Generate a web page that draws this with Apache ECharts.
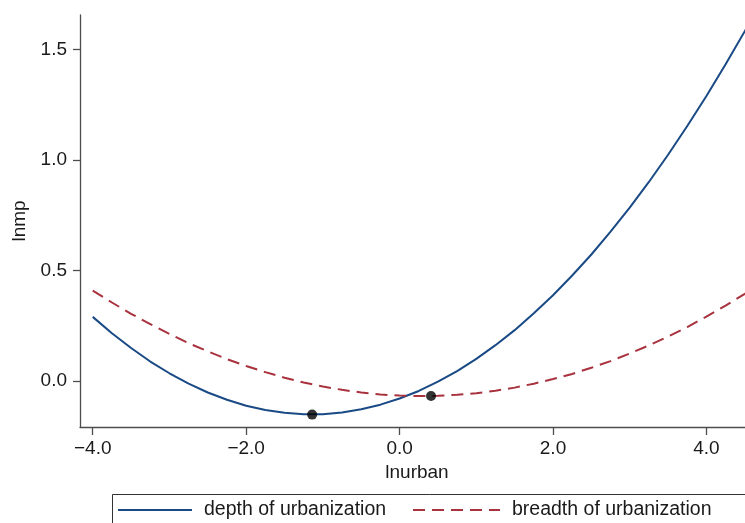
<!DOCTYPE html>
<html>
<head>
<meta charset="utf-8">
<script src="https://cdn.jsdelivr.net/npm/echarts@6/dist/echarts.min.js"></script>
<style>
html,body{margin:0;padding:0;background:#fff;}
#chart{width:745px;height:523px;}
</style>
</head>
<body>
<div id="chart"></div>
<script>
// x values (lnurban)
var xValues = [-4.0,-3.75,-3.5,-3.25,-3.0,-2.75,-2.5,-2.25,-2.0,-1.75,-1.5,-1.25,-1.0,-0.75,-0.5,-0.25,
  0.0,0.25,0.5,0.75,1.0,1.25,1.5,1.75,2.0,2.25,2.5,2.75,3.0,3.25,3.5,3.75,4.0,4.25,4.5,4.62];
// depth of urbanization (fitted lnmp)
var depthValues = [0.290,0.216,0.149,0.088,0.035,-0.012,-0.052,-0.085,-0.112,-0.131,-0.144,-0.150,-0.150,-0.142,-0.128,-0.107,
  -0.079,-0.045,-0.003,0.045,0.100,0.162,0.230,0.306,0.388,0.477,0.572,0.675,0.784,0.900,1.023,1.153,1.289,1.432,1.582,1.655];
// breadth of urbanization (fitted lnmp)
var breadthValues = [0.409,0.355,0.304,0.257,0.213,0.171,0.134,0.099,0.068,0.040,0.015,-0.007,-0.025,-0.040,-0.052,-0.061,
  -0.066,-0.068,-0.067,-0.062,-0.055,-0.044,-0.030,-0.012,0.009,0.032,0.060,0.090,0.124,0.161,0.201,0.244,0.291,0.341,0.394,0.421];
// turning points
var turnX = [-1.14, 0.41];
var turnY = [-0.152, -0.068];
// tick labels
var xTicks = [-4, -2, 0, 2, 4];
var yTicks = [0, 0.5, 1.0, 1.5];

var FONT = 'Liberation Sans, Arial, Helvetica, sans-serif';
function fmt(v){ return (v < 0 ? '\u2212' : '') + Math.abs(v).toFixed(1); }
function pairs(xs, ys){ return xs.map(function(x,i){ return [x, ys[i]]; }); }

var chart = echarts.init(document.getElementById('chart'), null, {renderer:'canvas'});
var axisColor = '#4d4d4d';
chart.setOption({
  backgroundColor: '#ffffff',
  animation: false,
  grid: { left: 80, top: 15, width: 674, bottom: 96, containLabel: false, outerBoundsMode: 'none' },
  xAxis: {
    type: 'value', min: -4.166, max: 4.62,
    name: 'lnurban', nameLocation: 'middle', nameGap: 28,
    nameTextStyle: { color: '#1a1a1a', fontSize: 19, fontFamily: FONT },
    axisLine: { show: true, onZero: false, lineStyle: { color: axisColor, width: 1.3 } },
    axisTick: { show: true, length: 8, customValues: xTicks, lineStyle: { color: axisColor, width: 1.3 } },
    axisLabel: { customValues: xTicks, formatter: fmt, margin: 12, color: '#1a1a1a', fontSize: 19, fontFamily: FONT },
    splitLine: { show: false }
  },
  yAxis: {
    type: 'value', min: -0.208, max: 1.655,
    name: 'lnmp', nameLocation: 'middle', nameGap: 49, nameRotate: 90,
    nameTextStyle: { color: '#1a1a1a', fontSize: 19, fontFamily: FONT },
    axisLine: { show: true, onZero: false, lineStyle: { color: axisColor, width: 1.3 } },
    axisTick: { show: true, length: 7, customValues: yTicks, lineStyle: { color: axisColor, width: 1.3 } },
    axisLabel: { customValues: yTicks, formatter: fmt, margin: 13, color: '#1a1a1a', fontSize: 19, fontFamily: FONT },
    splitLine: { show: false }
  },
  legend: [
    { data: ['depth of urbanization'], left: 117, top: 500, padding: 0, itemWidth: 74, itemHeight: 14,
      itemStyle: { opacity: 0 },
      textStyle: { fontSize: 19.5, fontFamily: FONT, color: '#1a1a1a', padding: [0,0,0,7] } },
    { data: ['breadth of urbanization'], left: 412, top: 500, padding: 0, itemWidth: 87, itemHeight: 14,
      itemStyle: { opacity: 0 },
      textStyle: { fontSize: 19.5, fontFamily: FONT, color: '#1a1a1a', padding: [0,0,0,7] } }
  ],
  graphic: [
    { type: 'rect', left: 110, top: 492, shape: { width: 700, height: 60 },
      style: { fill: 'none', stroke: '#333333', lineWidth: 1 }, silent: true, z: -1 }
  ],
  series: [
    { name: 'depth of urbanization', type: 'line', data: pairs(xValues, depthValues),
      smooth: false, showSymbol: false, symbol: 'none', clip: true,
      lineStyle: { color: '#1a4a85', width: 2 }, itemStyle: { color: '#1a4a85' } },
    { name: 'breadth of urbanization', type: 'line', data: pairs(xValues, breadthValues),
      smooth: false, showSymbol: false, symbol: 'none', clip: true,
      lineStyle: { color: '#a8323e', width: 2, type: [12, 7] }, itemStyle: { color: '#a8323e' } },
    { name: 'turning points', type: 'scatter', data: pairs(turnX, turnY),
      symbol: 'circle', symbolSize: 10, itemStyle: { color: '#000000' }, z: 5 }
  ]
});
</script>
</body>
</html>
